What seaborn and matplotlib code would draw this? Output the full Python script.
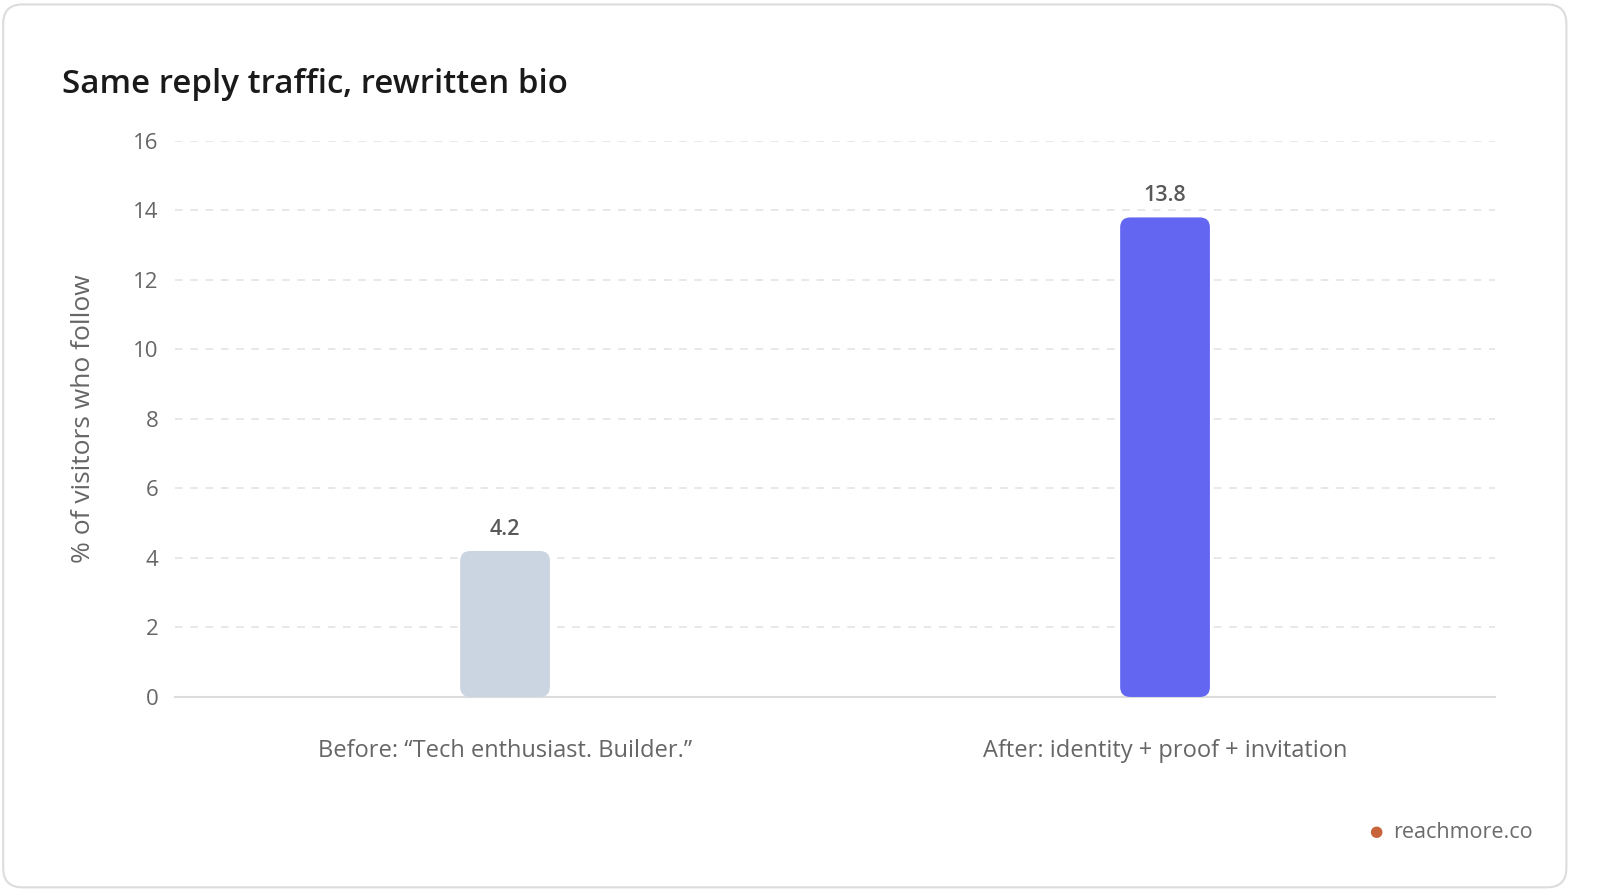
import numpy as np
import pandas as pd
import seaborn as sns
import matplotlib.pyplot as plt
from matplotlib.patches import FancyBboxPatch

# chart data
categories = ['Before: \u201cTech enthusiast. Builder.\u201d', 'After: identity + proof + invitation']
values = [4.2, 13.8]
bar_colors = ['#CBD5E1', '#6366F1']
y_ticks = [0, 2, 4, 6, 8, 10, 12, 14, 16]

sns.set_theme(style='white')
plt.rcParams['font.family'] = ['Open Sans', 'DejaVu Sans']

df = pd.DataFrame({'label': categories, 'value': values})

fig = plt.figure(figsize=(16, 8.9), dpi=100)
fig.patch.set_facecolor('white')

# card outline, behind everything
card = FancyBboxPatch((0.002, 0.003), 0.977, 0.992, boxstyle='round,pad=0,rounding_size=0.012',
                      transform=fig.transFigure, facecolor='white', edgecolor='#dcdcdc',
                      linewidth=1.5, mutation_aspect=1600 / 890, zorder=-5)
fig.patches.append(card)

ax = fig.add_axes([0.1094, 0.2169, 0.8250, 0.6247])
ax.set_facecolor('none')
ax.set_zorder(2)

sns.barplot(data=df, x='label', y='value', hue='label', palette=bar_colors,
            saturation=1, width=0.136, legend=False, ax=ax, zorder=3)

# swap rectangles for rounded bars (radius ~10px)
rx = 0.0152
aspect = (10 / (556 / 16)) / rx
for p in list(ax.patches):
    x0, y0 = p.get_x(), p.get_y()
    w, h = p.get_width(), p.get_height()
    fc = p.get_facecolor()
    p.remove()
    rb = FancyBboxPatch((x0, y0), w, h, boxstyle=f'round,pad=0,rounding_size={rx}',
                        mutation_aspect=aspect, facecolor=fc, edgecolor='none', zorder=3)
    ax.add_patch(rb)

for i, v in enumerate(values):
    ax.text(i, v + 0.33, f'{v}', ha='center', va='bottom', fontsize=15.5,
            color='#595959', fontweight='semibold')

ax.set_xlim(-0.5, 1.5)
ax.set_ylim(0, 16)
ax.set_yticks(y_ticks)
ax.yaxis.grid(True, linestyle=(0, (5, 5)), color='#e2e2e2', linewidth=1.1, zorder=0)
ax.xaxis.grid(False)
ax.set_axisbelow(True)
for s in ['top', 'right', 'left']:
    ax.spines[s].set_visible(False)
ax.spines['bottom'].set_color('#dcdcdc')
ax.spines['bottom'].set_linewidth(1.5)
ax.tick_params(axis='y', length=0, labelsize=16, labelcolor='#666666', pad=12)
ax.tick_params(axis='x', length=0, labelsize=17, labelcolor='#666666', pad=30)
ax.set_xlabel('')
ax.set_ylabel('% of visitors who follow', fontsize=19, color='#666666', va='center')
ax.yaxis.set_label_coords(-0.0697, 0.5)

fig.text(0.039, 0.905, 'Same reply traffic, rewritten bio', fontsize=23.8,
         fontweight='semibold', color='#1a1a1a', ha='left', va='center')

fig.text(0.860, 0.065, '\u25cf', fontsize=11, color='#C8643B', ha='center', va='center')
fig.text(0.8705, 0.065, 'reachmore.co', fontsize=15.5, color='#6b6b6b', ha='left', va='center')

fig.savefig('out.png', dpi=100, facecolor='white')
